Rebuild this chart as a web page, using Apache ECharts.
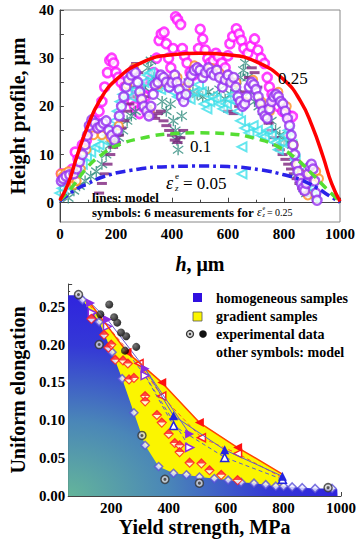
<!DOCTYPE html>
<html><head><meta charset="utf-8">
<script src="https://cdn.jsdelivr.net/npm/echarts@6/dist/echarts.min.js"></script>
<style>html,body{margin:0;padding:0;background:#fff}#c{width:359px;height:545px}</style>
</head><body><div id="c"></div>
<script>
// ---------- TOP CHART DATA (h in um, height in um) ----------
const topXTicks = [0, 200, 400, 600, 800, 1000];
const topYTicks = [0, 10, 20, 30, 40];
const model025 = [[0,0.5],[30,4],[60,9.5],[100,16],[140,21],[200,25.5],[300,29.3],[400,30.7],[500,31],[600,30.7],[700,29.3],[800,25.5],[860,21],[900,16],[940,9.5],[970,4],[1000,0.3]];
const model010 = [[0,0.5],[40,3],[100,7.5],[150,10],[200,11.8],[300,13.5],[400,14.3],[500,14.5],[600,14.3],[700,13.3],[780,11.6],[850,8.8],[900,6],[950,3],[1000,0.2]];
const model005 = [[0,0.3],[50,2.5],[100,4],[155,5.4],[250,6.7],[390,7.5],[500,7.6],[600,7.5],[718,6.8],[800,5.8],[859,4.8],[920,3],[960,1.5],[1000,0.1]];
const measMagenta = [[5,6],[15,5],[30,5.5],[45,7],[55,10.5],[65,9],[80,12],[95,13],[110,15],[125,17],[140,19],[150,21],[160,24],[170,27],[178,29.5],[185,30],[192,29],[200,27],[208,26],[218,25],[231,24],[245,22.5],[258,21],[266,20],[275,19],[284,18.5],[295,20],[305,22],[315,24],[325,25.5],[335,27],[345,30],[354,33.7],[362,35],[372,35.4],[380,33],[388,30],[396,28],[404,32],[413,38.6],[420,38],[431,37],[437,32],[445,30.5],[454,29],[465,27],[477,26.5],[489,28],[495,32],[501,36],[510,34],[519,31.7],[528,30],[536,29],[548,29.5],[557,31],[566,30.3],[578,29],[590,28],[600,30.5],[607,33],[617,34.5],[630,36.1],[640,35],[648,33.7],[657,32],[671,31],[682,32.5],[695,34],[707,31.7],[718,30],[730,28.9],[740,26],[748,24],[757,22.5],[765,21.3],[780,20],[795,19],[806,18.6],[818,18],[830,17.9]];
const measPurple = [[5,4.5],[12,5],[22,5.5],[35,5.8],[50,6],[60,7],[70,8.5],[80,10],[90,12],[98,14],[105,16],[114,17.2],[125,16.5],[135,15.5],[145,15.8],[155,16.5],[165,17],[175,15],[185,14],[195,13],[205,15],[212,18],[220,20],[228,22],[236,24],[245,25.5],[255,26.5],[262,27.5],[270,27],[278,25],[285,23],[292,21.5],[300,20],[310,19],[318,18],[325,20],[333,22.5],[340,24.5],[350,25],[360,26.5],[370,26],[380,25],[390,24],[400,25],[410,26.5],[418,25],[426,23.5],[434,22],[442,21],[450,22.5],[460,25],[470,26.5],[480,27.5],[490,28],[500,27.5],[510,26],[520,27],[530,28],[540,27],[550,26.5],[560,27.5],[570,26],[580,24],[590,25.5],[600,26.5],[610,25],[620,26],[628,24],[636,22],[644,21],[652,20],[660,20.5],[668,22],[676,24],[684,25],[692,24.5],[700,23.5],[708,22],[716,20.5],[724,19],[732,18],[740,17.5],[748,19.5],[756,21],[764,22],[772,22.5],[780,22],[788,21],[796,20.5],[804,19],[812,17.5],[820,16],[826,14],[832,12],[838,10],[844,8],[850,6.5],[856,5],[862,4],[868,3],[874,2.5],[880,4],[886,6],[892,7.5],[898,8],[904,7],[910,4.5],[914,2],[918,0.5]];
const measOrange = [[3,6],[10,5.5],[20,6.2],[30,6.5],[42,5],[50,3.7],[60,4.5],[75,7],[95,11],[120,14],[150,14],[180,13.5],[210,16],[240,24.5],[265,28],[290,22],[320,19],[350,24.5],[380,25.5],[420,26],[450,24],[480,28.5],[510,27],[540,28],[570,27],[600,25.5],[630,25],[660,21],[690,25.5],[720,21],[750,19],[780,23],[810,20],[835,12],[850,8],[862,6],[875,3],[885,1.5],[895,6],[905,5.5],[915,6.5],[925,5]];
const measCyan = [[0,2],[8,3],[15,4],[25,3.5],[35,5],[50,6],[65,7],[80,8],[95,9.5],[110,10.5],[125,11.5],[140,12],[155,13],[170,14],[185,15.5],[195,17],[205,19],[215,21],[225,22.5],[240,23],[255,22],[270,23.5],[285,24],[300,25],[312,26.5],[322,27],[332,25],[345,24],[360,23.5],[375,24],[390,25],[405,23],[420,22],[435,23],[450,22],[465,21.5],[480,23],[495,24.5],[505,23],[515,20.5],[525,19.5],[535,21],[545,22],[558,21.5],[570,20.5],[582,19.5],[595,20.5],[605,21.5],[615,22.5],[625,21],[635,19],[645,17],[650,11.6],[650,6],[660,15.5],[675,14.5],[690,16],[705,15],[718,14],[730,13.7],[742,15],[755,14],[768,12.5],[780,11],[792,12.5],[805,14],[815,15],[828,12],[840,9],[852,6],[864,4],[876,3],[888,2],[900,3],[912,1]];
const measTeal = [[30,1],[50,2.5],[70,3.5],[90,4.5],[110,5.5],[130,6.5],[150,8],[165,10],[180,12],[195,12.5],[210,13.5],[225,15],[240,17],[255,18],[270,19],[285,22],[300,24],[315,28],[325,29.5],[335,26],[350,24],[365,21],[380,19],[395,20.5],[405,17],[412,15],[418,13],[422,11],[428,14],[435,18],[445,22],[460,25],[475,23],[490,22.5],[510,22],[530,23],[550,22],[570,23.5],[590,21.5],[610,22.5],[630,24],[645,26],[655,27.5],[662,29],[670,26],[680,23],[695,21],[710,20],[725,19],[740,18],[755,17],[770,15],[785,14],[800,13],[815,12.5],[830,12],[840,9],[850,6],[860,4.5],[870,3],[880,2]];
const measDash = [[140,2],[150,4],[160,6],[170,8],[180,10],[190,11.5],[200,12.5],[210,14],[220,15.5],[230,17],[240,19],[248,20.5],[256,22],[264,24],[272,28.9],[280,27],[290,24],[300,22],[310,20],[320,19],[330,18],[340,17.5],[350,18.5],[360,19],[370,17],[380,16],[390,15],[400,14],[410,13],[420,12.5],[430,13.5],[440,15],[600,19],[620,18.5],[640,20],[660,23],[675,26],[685,28],[695,27],[705,24],[715,21],[725,20],[735,18],[745,16.5],[755,15],[765,13.5],[775,12],[785,11],[795,10],[805,9],[815,8],[825,7],[835,6],[845,5],[855,4],[865,3],[875,2],[885,1.5]];

// ---------- BOTTOM CHART DATA (yield strength MPa, uniform elongation) ----------
const botXTicks = [200, 400, 600, 800, 1000];
const homogArea = [[50,0.265],[86,0.265],[100,0.259],[158,0.230],[203,0.190],[238,0.155],[279,0.110],[318,0.067],[365,0.039],[417,0.030],[462,0.028],[507,0.025],[559,0.023],[607,0.021],[652,0.018],[697,0.017],[738,0.015],[773,0.013],[800,0.013],[830,0.012],[865,0.011],[910,0.010],[969,0.010],[987,0.009],[988,0]];
const homogModel = [[100,0.259],[158,0.230],[203,0.190],[238,0.155],[279,0.110],[318,0.067],[365,0.039],[417,0.030],[462,0.028],[507,0.025],[559,0.023],[607,0.021],[652,0.018],[697,0.017],[738,0.015],[773,0.013],[800,0.013],[830,0.012],[865,0.011],[910,0.010],[969,0.010]];
const gradientUpper = [[105,0.261],[120,0.258],[255,0.190],[376,0.150],[507,0.097],[640,0.064],[796,0.029],[800,0.011]];
const redSolid = [[120,0.258],[255,0.190],[376,0.150],[507,0.097],[640,0.064],[796,0.029]];
const redDashed = [[125,0.252],[297,0.175],[376,0.132],[514,0.077],[640,0.056],[796,0.024]];
const purpleSolid = [[128,0.255],[187,0.233],[318,0.168],[473,0.082]];
const blueSolid = [[318,0.168],[417,0.106],[595,0.061],[796,0.026]];
const purpleDashed = [[134,0.242],[187,0.224],[318,0.159],[473,0.064]];
const blueDashed = [[318,0.159],[417,0.093],[595,0.051],[796,0.022]];
const redHalf = [[131,0.234],[175,0.213],[190,0.196],[200,0.200],[214,0.180],[241,0.179],[258,0.175],[262,0.154],[279,0.156],[318,0.132],[318,0.125],[359,0.107],[376,0.097],[400,0.082],[421,0.070],[438,0.067],[438,0.058],[473,0.044],[514,0.043],[542,0.034],[583,0.028],[640,0.021]];
const expOpen = [[86,0.266],[158,0.200],[307,0.080],[387,0.022],[507,0.017],[955,0.011]];
const expFilled = [[162,0.240],[193,0.253],[210,0.236],[221,0.229],[234,0.216],[252,0.211],[248,0.192],[287,0.197]];

const SERIF = '"Liberation Serif","Times New Roman",serif';
const asterisk = 'path://M4.4,0H5.6V10H4.4Z M0.3,2.1L0.9,1.1L9.7,7.9L9.1,8.9Z M0.3,7.9L0.9,8.9L9.7,2.1L9.1,1.1Z';

function hideEnds(arr, first, last) {
  return arr.map((p, i) => ((first && i === 0) || (last && i === arr.length - 1)) ? {value: p, symbol: 'none'} : p);
}
function range(a, b, s) { const r = []; for (let v = a; v <= b + 1e-9; v += s) r.push(+v.toFixed(4)); return r; }
const mctx = document.createElement('canvas').getContext('2d');
function tw(text, font) { mctx.font = font; return mctx.measureText(text).width; }

const chart = echarts.init(document.getElementById('c'), null, {renderer: 'svg'});
const axLine = {show: true, lineStyle: {color: '#444', width: 1}};
const lblStyle = {color: '#000', fontFamily: SERIF, fontWeight: 'bold', fontSize: 15, formatter: v => String(v)};

// composite annotation line in top chart
const fB = 'bold 13px ' + SERIF;
const symTxt = 'symbols: 6 measurements for';
const x0 = 92, xe = x0 + tw(symTxt, fB) + 3;

const option = {
  animation: false,
  backgroundColor: '#fff',
  grid: [
    {left: 56, top: 10, width: 284, height: 212, show: true, borderColor: '#888', borderWidth: 1, backgroundColor: 'transparent'},
    {left: 65, top: 284, width: 276, height: 212}
  ],
  xAxis: [
    {gridIndex: 0, type: 'value', min: 0, max: 1000, interval: 200,
     axisLine: axLine, splitLine: {show: false},
     axisTick: {inside: true, length: 5, lineStyle: {color: '#444'}},
     minorTick: {show: true, splitNumber: 2, length: 3, lineStyle: {color: '#444'}},
     axisLabel: Object.assign({}, lblStyle, {margin: 4}),
     name: '{i|h}, μm', nameLocation: 'middle', nameGap: 32,
     nameTextStyle: {fontFamily: SERIF, fontWeight: 'bold', fontSize: 20, color: '#000',
       rich: {i: {fontFamily: SERIF, fontWeight: 'bold', fontStyle: 'italic', fontSize: 20, color: '#000'}}}},
    {gridIndex: 1, type: 'value', min: 50, max: 1000,
     axisLine: Object.assign({onZero: false}, axLine), splitLine: {show: false},
     axisTick: {inside: true, length: 4, customValues: range(100, 1000, 100), lineStyle: {color: '#444'}},
     axisLabel: Object.assign({}, lblStyle, {margin: 4, customValues: botXTicks}),
     name: 'Yield strength, MPa', nameLocation: 'middle', nameGap: 21,
     nameTextStyle: {fontFamily: SERIF, fontWeight: 'bold', fontSize: 20, color: '#000'}}
  ],
  yAxis: [
    {gridIndex: 0, type: 'value', min: -4, max: 40,
     axisLine: Object.assign({onZero: false}, axLine), splitLine: {show: false},
     axisTick: {inside: true, length: 4, customValues: range(0, 40, 5), lineStyle: {color: '#444'}},
     axisLabel: Object.assign({}, lblStyle, {margin: 6, customValues: topYTicks}),
     name: 'Height profile, μm', nameLocation: 'middle', nameGap: 30, nameRotate: 90,
     nameTextStyle: {fontFamily: SERIF, fontWeight: 'bold', fontSize: 20, color: '#000'}},
    {gridIndex: 1, type: 'value', min: 0, max: 0.28, interval: 0.05,
     axisLine: Object.assign({onZero: false}, axLine), splitLine: {show: false},
     axisTick: {inside: true, length: 4, lineStyle: {color: '#444'}},
     minorTick: {show: true, splitNumber: 5, length: 2, lineStyle: {color: '#444'}},
     axisLabel: Object.assign({}, lblStyle, {margin: 3, showMaxLabel: false, formatter: v => v.toFixed(2)}),
     name: 'Uniform elongation', nameLocation: 'middle', nameGap: 38, nameRotate: 90,
     nameTextStyle: {fontFamily: SERIF, fontWeight: 'bold', fontSize: 20, color: '#000'}}
  ],
  series: [
    // ---- top: measurements
    {type: 'scatter', xAxisIndex: 0, yAxisIndex: 0, data: measMagenta, symbol: 'circle', symbolSize: 9,
     itemStyle: {color: '#fff', borderColor: '#ff10ff', borderWidth: 2.6}, z: 2},
    {type: 'scatter', xAxisIndex: 0, yAxisIndex: 0, data: measTeal, symbol: asterisk, symbolSize: 11,
     itemStyle: {color: '#2e8b7d'}, z: 3},
    {type: 'scatter', xAxisIndex: 0, yAxisIndex: 0, data: measDash, symbol: 'rect', symbolSize: [10, 3],
     itemStyle: {color: '#7d237d'}, z: 3},
    {type: 'scatter', xAxisIndex: 0, yAxisIndex: 0, data: measCyan, symbol: 'triangle', symbolRotate: 90, symbolSize: 9,
     itemStyle: {color: 'rgba(255,255,255,0.5)', borderColor: '#3de0ea', borderWidth: 2}, z: 4},
    {type: 'scatter', xAxisIndex: 0, yAxisIndex: 0, data: measOrange, symbol: 'circle', symbolSize: 8,
     itemStyle: {color: '#fff', borderColor: '#ff9020', borderWidth: 2}, z: 4},
    {type: 'scatter', xAxisIndex: 0, yAxisIndex: 0, data: measPurple, symbol: 'circle', symbolSize: 9,
     itemStyle: {color: '#fff', borderColor: '#9530f0', borderWidth: 2.4}, z: 5},
    // ---- top: model lines
    {type: 'line', xAxisIndex: 0, yAxisIndex: 0, data: model005, smooth: true, showSymbol: false,
     lineStyle: {color: '#2a22e8', width: 3.5, type: [10, 4, 3, 4]}, z: 10},
    {type: 'line', xAxisIndex: 0, yAxisIndex: 0, data: model010, smooth: true, showSymbol: false,
     lineStyle: {color: '#55dd33', width: 3.5, type: [9, 6]}, z: 10},
    {type: 'line', xAxisIndex: 0, yAxisIndex: 0, data: model025, smooth: true, showSymbol: false,
     lineStyle: {color: '#ff0000', width: 3.5}, z: 11},
    // ---- bottom: areas
    {name: 'gradient samples', type: 'line', xAxisIndex: 1, yAxisIndex: 1, data: gradientUpper, showSymbol: false,
     lineStyle: {width: 0}, areaStyle: {color: '#fbf500', opacity: 1}, z: 1},
    {name: 'homogeneous samples', type: 'line', xAxisIndex: 1, yAxisIndex: 1, data: homogArea, showSymbol: false,
     lineStyle: {width: 0},
     areaStyle: {opacity: 1, color: new echarts.graphic.RadialGradient(0, 1, 1.25, [
       {offset: 0, color: '#64b59a'}, {offset: 0.3, color: '#4a86b8'}, {offset: 0.6, color: '#3438d6'}, {offset: 1, color: '#2a10e6'}])}, z: 2},
    {type: 'scatter', xAxisIndex: 1, yAxisIndex: 1, data: homogModel, symbol: 'diamond', symbolSize: 8,
     itemStyle: {color: '#eef', borderColor: '#5a50d8', borderWidth: 1.5}, z: 5},
    // ---- bottom: model lines
    {type: 'line', xAxisIndex: 1, yAxisIndex: 1, data: hideEnds(purpleDashed, false, false), symbol: 'triangle', symbolRotate: -90, symbolSize: 8,
     lineStyle: {color: '#6a5acd', width: 1, type: [4, 3]}, itemStyle: {color: '#fff', borderColor: '#8a2be2', borderWidth: 1.5}, z: 6},
    {type: 'line', xAxisIndex: 1, yAxisIndex: 1, data: hideEnds(blueDashed, true, false), symbol: 'triangle', symbolSize: 8,
     lineStyle: {color: '#5a5ad0', width: 1, type: [4, 3]}, itemStyle: {color: '#fff', borderColor: '#2323e0', borderWidth: 1.5}, z: 6},
    {type: 'line', xAxisIndex: 1, yAxisIndex: 1, data: hideEnds(redDashed, true, true), symbol: 'triangle', symbolRotate: 90, symbolSize: 8,
     lineStyle: {color: '#ff5030', width: 1, type: [4, 3]}, itemStyle: {color: '#fff', borderColor: '#ff2020', borderWidth: 1.5}, z: 6},
    {type: 'line', xAxisIndex: 1, yAxisIndex: 1, data: hideEnds(purpleSolid, false, false), symbol: 'triangle', symbolRotate: -90, symbolSize: 9,
     lineStyle: {color: '#6a5acd', width: 1}, itemStyle: {color: '#8a2be2'}, z: 7},
    {type: 'line', xAxisIndex: 1, yAxisIndex: 1, data: hideEnds(blueSolid, true, false), symbol: 'triangle', symbolSize: 9,
     lineStyle: {color: '#5a5ad0', width: 1}, itemStyle: {color: '#2323e0'}, z: 7},
    {type: 'line', xAxisIndex: 1, yAxisIndex: 1, data: hideEnds(redSolid, true, true), symbol: 'triangle', symbolRotate: 90, symbolSize: 9,
     lineStyle: {color: '#ff4500', width: 1.5}, itemStyle: {color: '#ff1010'}, z: 7},
    // red half-filled diamonds (two layers)
    {type: 'scatter', xAxisIndex: 1, yAxisIndex: 1, data: redHalf, symbol: 'diamond', symbolSize: 9,
     itemStyle: {color: '#fff', borderColor: '#ff1a1a', borderWidth: 1.2}, z: 8},
    {type: 'scatter', xAxisIndex: 1, yAxisIndex: 1, data: redHalf, symbol: 'triangle', symbolSize: [9, 4.5], symbolOffset: [0, -2.25],
     itemStyle: {color: '#ff1a1a'}, z: 9},
    // experimental data
    {type: 'scatter', xAxisIndex: 1, yAxisIndex: 1, data: expOpen, symbol: 'circle', symbolSize: 8,
     itemStyle: {color: '#d8d8d8', borderColor: '#333', borderWidth: 1.5}, z: 10},
    {type: 'scatter', xAxisIndex: 1, yAxisIndex: 1, data: expOpen, symbol: 'circle', symbolSize: 3,
     itemStyle: {color: '#333'}, z: 11},
    {type: 'scatter', xAxisIndex: 1, yAxisIndex: 1, data: expFilled, symbol: 'circle', symbolSize: 8,
     itemStyle: {color: new echarts.graphic.RadialGradient(0.35, 0.35, 0.6, [{offset: 0, color: '#555'}, {offset: 1, color: '#000'}])}, z: 10}
  ],
  graphic: [
    // top chart annotations
    {type: 'text', x: 278, y: 78, z: 100, style: {text: '0.25', font: '17px ' + SERIF, fill: '#000', verticalAlign: 'middle'}},
    {type: 'text', x: 190, y: 146, z: 100, style: {text: '0.1', font: '17px ' + SERIF, fill: '#000', verticalAlign: 'middle'}},
    {type: 'text', x: 166, y: 183, z: 100, style: {text: 'ε', font: 'italic 18px ' + SERIF, fill: '#000', verticalAlign: 'middle'}},
    {type: 'text', x: 175, y: 176, z: 100, style: {text: 'e', font: '9px ' + SERIF, fill: '#000', verticalAlign: 'middle'}},
    {type: 'text', x: 175, y: 188, z: 100, style: {text: 'z', font: 'italic 9px ' + SERIF, fill: '#000', verticalAlign: 'middle'}},
    {type: 'text', x: 183, y: 183, z: 100, style: {text: '= 0.05', font: '17px ' + SERIF, fill: '#000', verticalAlign: 'middle'}},
    {type: 'text', x: x0, y: 197, z: 100, style: {text: 'lines: model', font: fB, fill: '#000', verticalAlign: 'middle'}},
    {type: 'text', x: x0, y: 212, z: 100, style: {text: symTxt, font: fB, fill: '#000', verticalAlign: 'middle'}},
    {type: 'text', x: xe, y: 212, z: 100, style: {text: 'ε', font: 'italic 12px ' + SERIF, fill: '#000', verticalAlign: 'middle'}},
    {type: 'text', x: xe + 5.5, y: 208, z: 100, style: {text: 'e', font: '6px ' + SERIF, fill: '#000', verticalAlign: 'middle'}},
    {type: 'text', x: xe + 5.5, y: 215, z: 100, style: {text: 'z', font: 'italic 6px ' + SERIF, fill: '#000', verticalAlign: 'middle'}},
    {type: 'text', x: xe + 10, y: 212, z: 100, style: {text: '= 0.25', font: '10px ' + SERIF, fill: '#000', verticalAlign: 'middle'}},
    // bottom legend
    {type: 'rect', x: 193, y: 293, z: 100, shape: {width: 9, height: 9}, style: {fill: '#3010e0'}},
    {type: 'rect', x: 193, y: 312, z: 100, shape: {width: 9, height: 9}, style: {fill: '#fbf500', stroke: '#555', lineWidth: 0.8}},
    {type: 'circle', x: 190, y: 334, z: 100, shape: {r: 3.5}, style: {fill: '#d8d8d8', stroke: '#333', lineWidth: 1.3}},
    {type: 'circle', x: 190, y: 334, z: 101, shape: {r: 1.2}, style: {fill: '#333'}},
    {type: 'circle', x: 203, y: 334, z: 100, shape: {r: 3.8}, style: {fill: '#111'}},
    {type: 'text', x: 216, y: 298, z: 100, style: {text: 'homogeneous samples', font: 'bold 14px ' + SERIF, fill: '#000', verticalAlign: 'middle'}},
    {type: 'text', x: 216, y: 316, z: 100, style: {text: 'gradient samples', font: 'bold 14px ' + SERIF, fill: '#000', verticalAlign: 'middle'}},
    {type: 'text', x: 216, y: 334, z: 100, style: {text: 'experimental data', font: 'bold 14px ' + SERIF, fill: '#000', verticalAlign: 'middle'}},
    {type: 'text', x: 216, y: 352, z: 100, style: {text: 'other symbols: model', font: 'bold 14px ' + SERIF, fill: '#000', verticalAlign: 'middle'}}
  ]
};
chart.setOption(option);
</script></body></html>
